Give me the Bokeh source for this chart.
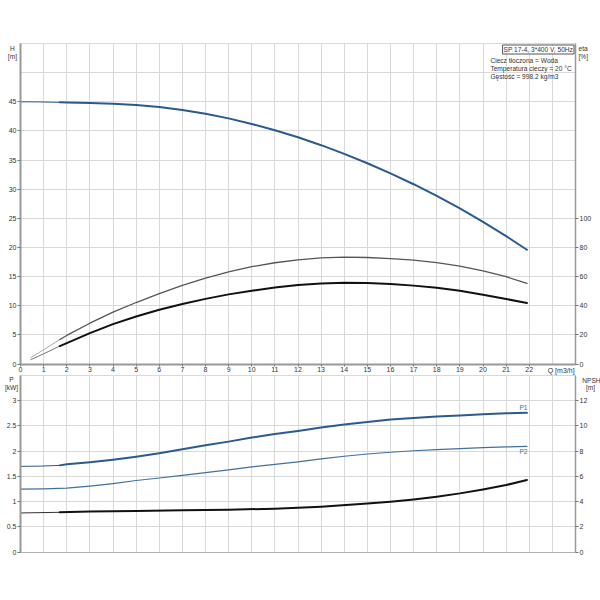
from bokeh.plotting import figure
from bokeh.models import Range1d, LinearAxis, FixedTicker, Label, Grid
from bokeh.embed import file_html
from bokeh.resources import INLINE

# ---------------- data ----------------
q_ticks = list(range(0, 23))
q_grid = list(range(0, 25))
h_ticks = [0, 5, 10, 15, 20, 25, 30, 35, 40, 45]
h_grid = [0, 5, 10, 15, 20, 25, 30, 35, 40, 45, 50, 55]
eta_ticks = [0, 20, 40, 60, 80, 100]
p_ticks = [0.0, 0.5, 1.0, 1.5, 2.0, 2.5, 3.0]
p_grid = [0.0, 0.5, 1.0, 1.5, 2.0, 2.5, 3.0, 3.5]
npsh_ticks = [0, 2, 4, 6, 8, 10, 12]

# main operating range
q_main = [1.7, 2, 3, 4, 5, 6, 7, 8, 9, 10, 11, 12, 13, 14, 15, 16, 17, 18, 19, 20, 21, 21.9]
h_main = [44.9, 44.88, 44.8, 44.67, 44.45, 44.1, 43.6, 42.95, 42.15, 41.2, 40.1, 38.9,
          37.55, 36.05, 34.45, 32.7, 30.85, 28.85, 26.7, 24.4, 21.95, 19.6]
eta_pump = [16.8, 19.6, 28.0, 35.6, 42.2, 48.3, 54.0, 59.0, 63.3, 66.8, 69.5, 71.5,
            72.8, 73.3, 73.1, 72.4, 71.3, 69.6, 67.2, 64.0, 59.9, 55.3]
eta_total = [12.3, 14.3, 21.2, 27.4, 32.6, 37.2, 41.2, 44.7, 47.8, 50.3, 52.5, 54.2,
             55.3, 55.8, 55.6, 54.9, 53.8, 52.4, 50.3, 47.6, 44.6, 41.9]
p1_main = [1.72, 1.74, 1.78, 1.83, 1.89, 1.96, 2.04, 2.12, 2.19, 2.27, 2.34, 2.40,
           2.47, 2.53, 2.58, 2.63, 2.66, 2.69, 2.71, 2.73, 2.75, 2.76]

# extrapolated low-flow parts
q_ext = [0.0, 0.85, 1.7]
h_ext = [45.0, 44.97, 44.9]
p1_ext = [1.70, 1.705, 1.72]
q_eta_ext = [0.45, 1.0, 1.7]
eta_pump_ext = [4.4, 9.8, 16.8]
eta_total_ext = [3.0, 7.0, 12.3]

q_p2 = [0, 1, 2, 3, 4, 5, 6, 7, 8, 9, 10, 11, 12, 13, 14, 15, 16, 17, 18, 19, 20, 21, 21.9]
p2_vals = [1.25, 1.255, 1.27, 1.31, 1.36, 1.42, 1.47, 1.52, 1.575, 1.63, 1.69, 1.74,
           1.79, 1.85, 1.90, 1.945, 1.98, 2.01, 2.03, 2.05, 2.07, 2.085, 2.095]

q_npsh = [1.7, 3, 5, 7, 9, 11, 13, 15, 16, 17, 18, 19, 20, 21, 21.9]
npsh_main = [3.16, 3.22, 3.27, 3.33, 3.36, 3.45, 3.61, 3.85, 4.0, 4.18, 4.40, 4.66, 4.97, 5.32, 5.72]
q_npsh_ext = [0.0, 1.7]
npsh_ext = [3.11, 3.16]

# ---------------- layout constants (canvas pixels) ----------------
W, HGT = 600, 592
X0, XS = 20.0, 23.125           # canvas x of Q=0, px per m3/h
Q_MAX, H_MAX, P_MAX = 24, 55, 3.5
H_TOP_PX, H0_PX = 43.0, 363.5   # canvas y of H=55 and H=0
P_TOP_PX, P0_PX = 375.0, 551.7  # canvas y of P=3.5 and P=0
YS1 = (H0_PX - H_TOP_PX) / H_MAX
YS2 = (P0_PX - P_TOP_PX) / P_MAX

FONT = "Liberation Sans"
BLUE = "#2b5b8e"
BLUE2 = "#41709f"
GRID = "#d9d9d9"

x_rng = Range1d(-X0 / XS, (W - X0) / XS)
h_rng = Range1d(-(HGT - H0_PX) / YS1, H0_PX / YS1)

p = figure(width=W, height=HGT, x_range=x_rng, y_range=h_rng,
           x_axis_type=None, y_axis_type=None,
           output_backend="svg", toolbar_location=None,
           min_border_left=0, min_border_right=0, min_border_top=0, min_border_bottom=0)
p.outline_line_color = None
p.extra_y_ranges = {
    "eta": Range1d(4 * h_rng.start, 4 * h_rng.end),
    "p": Range1d(-(HGT - P0_PX) / YS2, P0_PX / YS2),
}
p.extra_y_ranges["npsh"] = Range1d(4 * p.extra_y_ranges["p"].start, 4 * p.extra_y_ranges["p"].end)


def add_grid(dim, ticks, cross, yname="default"):
    p.add_layout(Grid(dimension=dim, ticker=FixedTicker(ticks=ticks), cross_bounds=cross,
                      y_range_name=yname, grid_line_color=GRID, grid_line_width=1))


add_grid(0, q_grid, (0, H_MAX))
add_grid(1, h_grid, (0, Q_MAX))
add_grid(0, q_grid, (0, P_MAX), "p")
add_grid(1, p_grid, (0, Q_MAX), "p")


def make_axis(side, ticks, loc, bounds, yname="default", tick_out=3, standoff=1,
              size="7px", lw=2, color="#999999"):
    ax = LinearAxis(fixed_location=loc, bounds=bounds, ticker=FixedTicker(ticks=ticks),
                    y_range_name=yname)
    ax.major_label_text_font = FONT
    ax.major_label_text_font_size = size
    ax.major_label_text_color = "#333333"
    ax.major_tick_in = 0
    ax.major_tick_out = tick_out
    ax.minor_tick_in = 0
    ax.minor_tick_out = 0
    ax.major_tick_line_color = "#777777"
    ax.axis_line_color = color
    ax.axis_line_width = lw
    ax.major_label_standoff = standoff
    p.add_layout(ax, side)
    return ax


# top plot axes
make_axis("below", q_ticks, 0, (0, Q_MAX), tick_out=2, standoff=1)
make_axis("left", h_ticks, 0, (0, H_MAX), tick_out=3, standoff=1)
make_axis("right", eta_ticks, Q_MAX, (0, 4 * H_MAX), "eta", tick_out=3, standoff=1, lw=1.5)
# bottom plot axes
make_axis("below", [], 0, (0, Q_MAX), "p", tick_out=0, standoff=0, lw=1, color="#b0b0b0")
make_axis("left", p_ticks, 0, (0, P_MAX), "p", tick_out=3, standoff=1)
make_axis("right", npsh_ticks, Q_MAX, (0, 4 * P_MAX), "npsh", tick_out=3, standoff=1, lw=1.5)

J = dict(line_join="round", line_cap="round")
# top curves
p.line(q_ext, h_ext, line_color=BLUE, line_width=1, **J)
p.line(q_main, h_main, line_color=BLUE, line_width=2, **J)
p.line(q_eta_ext, eta_pump_ext, y_range_name="eta", line_color="#aaaaaa", line_width=1, **J)
p.line(q_main, eta_pump, y_range_name="eta", line_color="#555555", line_width=1.3, **J)
p.line(q_eta_ext, eta_total_ext, y_range_name="eta", line_color="#777777", line_width=1, **J)
p.line(q_main, eta_total, y_range_name="eta", line_color="#111111", line_width=2, **J)

# bottom curves
p.line(q_ext, p1_ext, y_range_name="p", line_color=BLUE, line_width=1, **J)
p.line(q_main, p1_main, y_range_name="p", line_color=BLUE, line_width=2, **J)
p.line(q_p2, p2_vals, y_range_name="p", line_color=BLUE2, line_width=1.2, **J)
p.line(q_npsh_ext, npsh_ext, y_range_name="npsh", line_color="#333333", line_width=1, **J)
p.line(q_npsh, npsh_main, y_range_name="npsh", line_color="#111111", line_width=2, **J)


def lab(x, y, text, align="center", baseline="middle", size="6.6px", color="#333333",
        yname="default", **kw):
    p.add_layout(Label(x=x, y=y, text=text, text_align=align, text_baseline=baseline,
                       text_font=FONT, text_font_size=size, text_color=color,
                       y_range_name=yname, **kw))


# top texts
lab(-0.35, 54.2, "H")
lab(-0.35, 52.85, "[m]")
lab(24.13, 54.2, "eta", align="left")
lab(24.13, 52.85, "[%]", align="left")
lab(23.96, -1.08, "Q [m3/h]", align="right", size="7px")
lab(Q_MAX, H_MAX, "SP 17-4, 3*400 V, 50Hz", align="right", baseline="top",
    x_offset=-1.5, y_offset=-1.5, border_line_color="#555555", border_line_width=1,
    background_fill_color="white", padding=1)
lab(20.32, 52.0, "Ciecz tłoczona = Woda", align="left")
lab(20.32, 50.65, "Temperatura cieczy = 20 °C", align="left")
lab(20.32, 49.3, "Gęstość = 998.2 kg/m3", align="left")

# bottom texts
lab(21.75, 2.86, "P1", color="#3a6ea5", yname="p")
lab(21.75, 1.99, "P2", color="#3a6ea5", yname="p")
lab(-0.39, 3.43, "P", yname="p")
lab(-0.39, 3.255, "[kW]", yname="p")
lab(24.69, 3.41, "NPSH", yname="p")
lab(24.65, 3.255, "[m]", yname="p")

open("out.html", "w").write(file_html(p, INLINE))
